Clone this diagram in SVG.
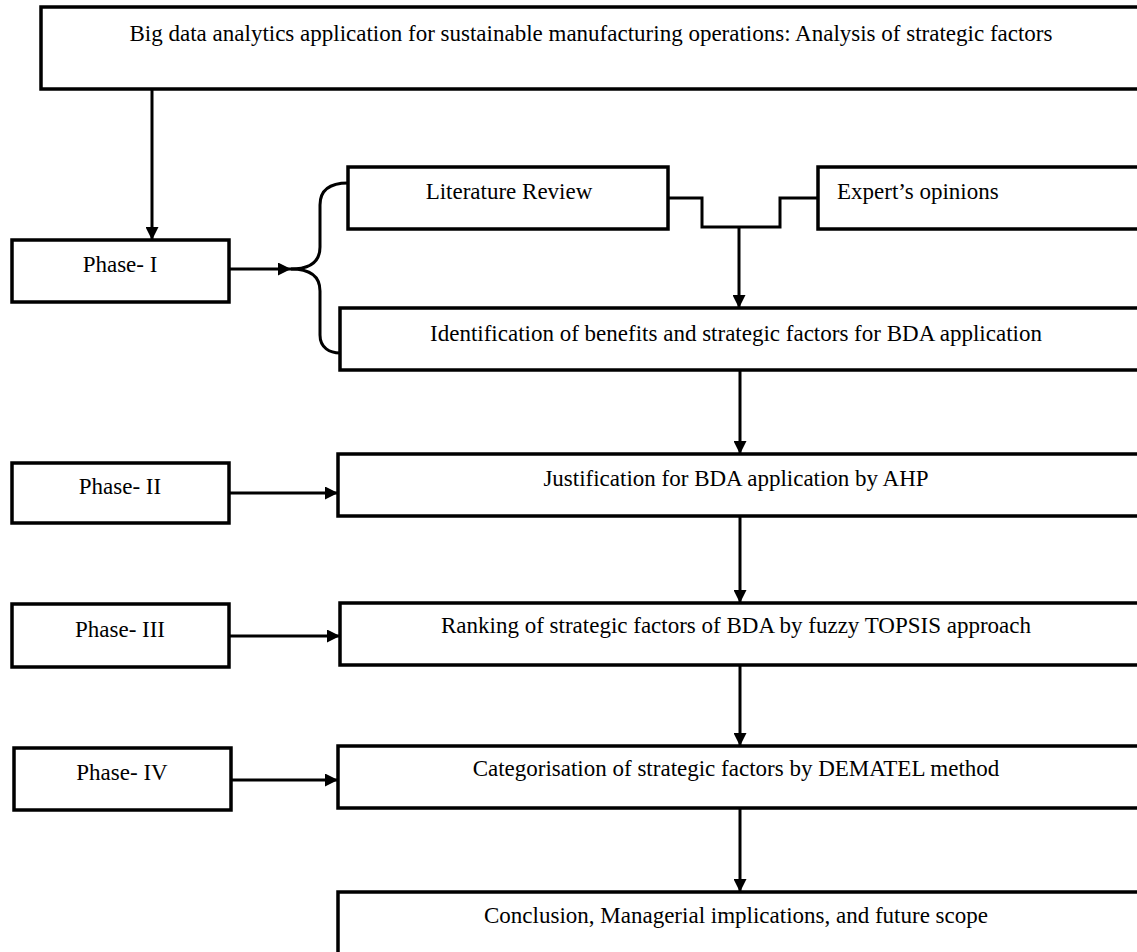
<svg xmlns="http://www.w3.org/2000/svg" width="1137" height="952" viewBox="0 0 1137 952">
<defs>
<style>
.box{fill:#fff;stroke:#000;stroke-width:3.5}
.ln{fill:none;stroke:#000;stroke-width:3}
.t{font-family:"Liberation Serif","Times New Roman",serif;font-size:23px;fill:#000}
.c{text-anchor:middle}
</style>
<marker id="ah" markerWidth="13" markerHeight="13" viewBox="0 0 13 13" refX="13" refY="6.5" orient="auto" markerUnits="userSpaceOnUse">
<path d="M0,0 L13,6.5 L0,13 Z" fill="#000"/>
</marker>
</defs>
<rect width="1137" height="952" fill="#fff"/>
<g id="connectors">
<path class="ln" d="M152,89 V240" marker-end="url(#ah)"/>
<path class="ln" d="M229,269 H291" marker-end="url(#ah)"/>
<path class="ln" d="M291,269 C310,269 320,262 320,247 L320,205 C320,190 330,183 348,183"/>
<path class="ln" d="M291,269 C310,269 320,276 320,291 L320,335 C320,348 330,353 340,353"/>
<path class="ln" d="M668,198 H702 V227 H780 V198 H818"/>
<path class="ln" d="M739,227 V308" marker-end="url(#ah)"/>
<path class="ln" d="M740,370 V454" marker-end="url(#ah)"/>
<path class="ln" d="M229,493 H338" marker-end="url(#ah)"/>
<path class="ln" d="M740,516 V603" marker-end="url(#ah)"/>
<path class="ln" d="M229,636 H340" marker-end="url(#ah)"/>
<path class="ln" d="M740,665 V746" marker-end="url(#ah)"/>
<path class="ln" d="M231,780 H338" marker-end="url(#ah)"/>
<path class="ln" d="M740,808 V892" marker-end="url(#ah)"/>
</g>
<g id="title">
<rect class="box" x="41" y="7" width="1110" height="82"/>
<text class="t c" x="591" y="41">Big data analytics application for sustainable manufacturing operations: Analysis of strategic factors</text>
</g>
<g id="phase1">
<rect class="box" x="12" y="240" width="217" height="62"/>
<text class="t c" x="120" y="272">Phase- I</text>
</g>
<g id="literature">
<rect class="box" x="348" y="167" width="320" height="62"/>
<text class="t c" x="509" y="199">Literature Review</text>
</g>
<g id="experts">
<rect class="box" x="818" y="167" width="330" height="62"/>
<text class="t" x="837" y="199">Expert’s opinions</text>
</g>
<g id="identification">
<rect class="box" x="340" y="308" width="810" height="62"/>
<text class="t c" x="736" y="341">Identification of benefits and strategic factors for BDA application</text>
</g>
<g id="phase2">
<rect class="box" x="12" y="463" width="217" height="60"/>
<text class="t c" x="120" y="494">Phase- II</text>
</g>
<g id="justification">
<rect class="box" x="338" y="454" width="812" height="62"/>
<text class="t c" x="736" y="486">Justification for BDA application by AHP</text>
</g>
<g id="phase3">
<rect class="box" x="12" y="604" width="217" height="63"/>
<text class="t c" x="120" y="637">Phase- III</text>
</g>
<g id="ranking">
<rect class="box" x="340" y="603" width="810" height="62"/>
<text class="t c" x="736" y="633">Ranking of strategic factors of BDA by fuzzy TOPSIS approach</text>
</g>
<g id="phase4">
<rect class="box" x="14" y="748" width="217" height="62"/>
<text class="t c" x="122" y="780">Phase- IV</text>
</g>
<g id="categorisation">
<rect class="box" x="338" y="746" width="812" height="62"/>
<text class="t c" x="736" y="776">Categorisation of strategic factors by DEMATEL method</text>
</g>
<g id="conclusion">
<rect class="box" x="338" y="892" width="812" height="80"/>
<text class="t c" x="736" y="923">Conclusion, Managerial implications, and future scope</text>
</g>
</svg>
